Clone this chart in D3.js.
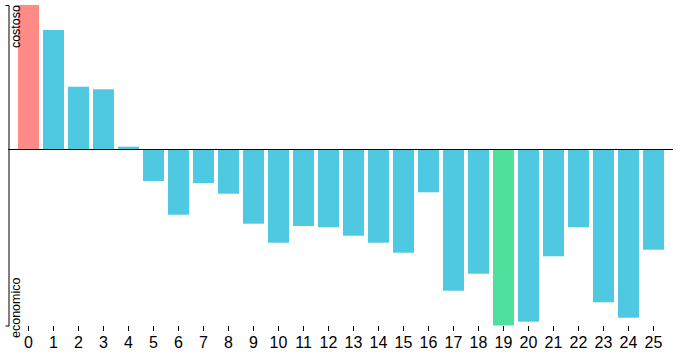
<!DOCTYPE html>
<html>
<head>
	<meta charset="utf-8">
	<script src="https://cdn.jsdelivr.net/npm/d3@7"></script>
	<style>
		body { margin: 0; font-family: "Liberation Sans", Arial, sans-serif; background: #fff; }
		.label { font-size: 12.5px; }
		.x-axis text { font-size: 16px; font-family: "Liberation Sans", Arial, sans-serif; }
	</style>
</head>
<body>
	<svg width="680" height="354"></svg>
	<script>
		var categories = d3.range(26).map(String);
		var values = [144.5, 119.5, 62.8, 60.2, 2.8, -31.5, -65.2, -33.5, -44.2, -74.2,
			-93.2, -76.5, -77.8, -86.2, -93.2, -103.2, -42.8, -141.2, -124.2, -176,
			-172.2, -106.8, -77.8, -152.8, -168.2, -100.2];
		var highlightHigh = "0", highlightLow = "19";

		var svg = d3.select("svg");

		var x = d3.scaleBand()
			.domain(categories)
			.range([16, 666])
			.paddingInner(0.16)
			.paddingOuter(0.08);

		var y = d3.scaleLinear()
			.domain(d3.extent(values))
			.range([325.5, 5]);

		svg.append("g")
			.selectAll("rect")
			.data(values)
			.enter().append("rect")
			.attr("x", function(d, i) { return x(categories[i]); })
			.attr("width", x.bandwidth())
			.attr("y", function(d) { return y(Math.max(0, d)); })
			.attr("height", function(d) { return Math.abs(y(d) - y(0)); })
			.attr("fill", function(d, i) {
				if (categories[i] === highlightHigh) return "#ff8a86";
				if (categories[i] === highlightLow) return "#50e09e";
				return "#4fc9e1";
			});

		// zero line
		svg.append("line")
			.attr("x1", 8).attr("x2", 673)
			.attr("y1", Math.floor(y(0)) + 0.5).attr("y2", Math.floor(y(0)) + 0.5)
			.attr("stroke", "#000");

		// y axis, only the end ticks
		svg.append("g")
			.attr("transform", "translate(8.5,0)")
			.call(d3.axisLeft(y).tickValues([]).tickSizeOuter(3));

		svg.append("text")
			.attr("class", "label")
			.attr("transform", "translate(20,5) rotate(-90)")
			.attr("text-anchor", "end")
			.text("costoso");

		svg.append("text")
			.attr("class", "label")
			.attr("transform", "translate(20,338) rotate(-90)")
			.attr("text-anchor", "start")
			.text("economico");

		var xAxis = svg.append("g")
			.attr("class", "x-axis")
			.attr("transform", "translate(0,326)")
			.call(d3.axisBottom(x).tickSize(5).tickSizeOuter(0).tickPadding(6));
		xAxis.select(".domain").remove();
		xAxis.selectAll("text").attr("fill", "#000");
	</script>
</body>
</html>
